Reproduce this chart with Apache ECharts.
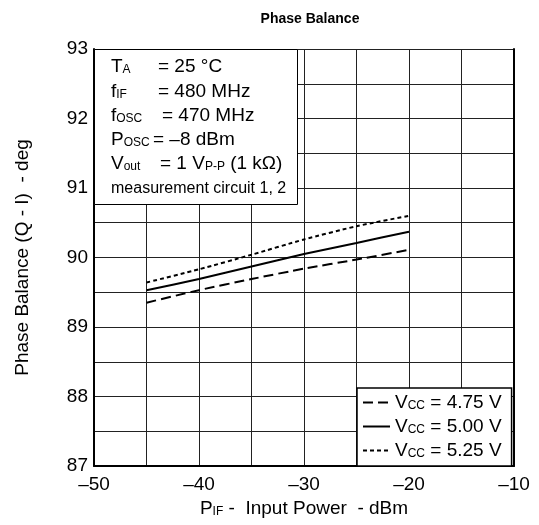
<!DOCTYPE html>
<html>
<head>
<meta charset="utf-8">
<script src="https://cdn.jsdelivr.net/npm/echarts@6/dist/echarts.min.js"></script>
<style>html,body{margin:0;padding:0;background:#fff}#c{width:539px;height:525px}</style>
</head>
<body>
<div id="c"></div>
<script>
// ---- data ----
const inputPower = [-45, -40, -35, -30, -25, -20];
const vcc475 = [89.35, 89.53, 89.69, 89.84, 89.97, 90.11];
const vcc500 = [89.53, 89.69, 89.87, 90.05, 90.21, 90.37];
const vcc525 = [89.64, 89.83, 90.04, 90.26, 90.45, 90.60];
const seriesNames = ['4.75', '5.00', '5.25'];
const xTicks = [-50, -40, -30, -20, -10];
const yTicks = [87, 88, 89, 90, 91, 92, 93];

const F = 'Liberation Sans, Arial, Helvetica, sans-serif';
const pair = (ys) => inputPower.map((x, i) => [x, ys[i]]);
const sub = { fontSize: 12, lineHeight: 12, verticalAlign: 'bottom', fontFamily: F, color: '#000' };
const main = { fontSize: 19, lineHeight: 19, fontFamily: F, color: '#000' };

const chart = echarts.init(document.getElementById('c'), null, { renderer: 'canvas' });

function rowText(x, y, t, size) {
  return {
    type: 'text', left: x, top: y - 11, z: 101,
    style: { text: t, font: (size || 19) + 'px ' + F, fill: '#000',
      rich: { m: main, s: sub } }
  };
}

const lineStyles = [
  { type: [10, 5], width: 2 },
  { type: 'solid', width: 2 },
  { type: [4, 3], width: 2 }
];
const datas = [vcc475, vcc500, vcc525];

chart.setOption({
  animation: false,
  backgroundColor: '#fff',
  title: {
    text: 'Phase Balance', left: 305, top: 7, textAlign: 'center',
    textStyle: { fontSize: 14, fontWeight: 'bold', color: '#000', fontFamily: F }
  },
  grid: { left: 94, right: 25, top: 49, bottom: 59, containLabel: false },
  xAxis: {
    type: 'value', min: xTicks[0], max: xTicks[xTicks.length - 1], interval: 10,
    name: '{m|P}{s|IF}{m| -  Input Power  - dBm}', nameLocation: 'middle', nameGap: 33,
    nameTextStyle: { fontSize: 19, fontFamily: F, color: '#000', rich: { m: main, s: sub } },
    axisLine: { show: true, onZero: false, lineStyle: { color: '#000', width: 2 } },
    axisTick: { show: false },
    axisLabel: { fontSize: 19, fontFamily: F, color: '#000', margin: 9,
      formatter: v => String(v).replace('-', '\u2013') },
    splitLine: { show: true, lineStyle: { color: '#222', width: 1 } },
    minorTick: { show: false, splitNumber: 2 },
    minorSplitLine: { show: true, lineStyle: { color: '#222', width: 1 } }
  },
  yAxis: [{
    type: 'value', min: yTicks[0], max: yTicks[yTicks.length - 1], interval: 1,
    name: 'Phase Balance (Q - I)  - deg', nameLocation: 'middle', nameGap: 62,
    nameTextStyle: { fontSize: 19, fontFamily: F, color: '#000' },
    axisLine: { show: true, onZero: false, lineStyle: { color: '#000', width: 2 } },
    axisTick: { show: false },
    axisLabel: { fontSize: 19, fontFamily: F, color: '#000', margin: 6 },
    splitLine: { show: true, lineStyle: { color: '#222', width: 1 } },
    minorTick: { show: false, splitNumber: 2 },
    minorSplitLine: { show: true, lineStyle: { color: '#222', width: 1 } }
  }, {
    type: 'value', position: 'right', min: yTicks[0], max: yTicks[yTicks.length - 1], interval: 1,
    axisLine: { show: true, onZero: false, lineStyle: { color: '#000', width: 2 } },
    axisTick: { show: false }, axisLabel: { show: false }, splitLine: { show: false }
  }],
  legend: {
    orient: 'vertical', left: 357, top: 388, z: 110,
    backgroundColor: '#fff', borderColor: '#000', borderWidth: 1.5, borderRadius: 0,
    padding: [5, 10, 6, 5], itemGap: 5, itemWidth: 27, itemHeight: 14,
    itemStyle: { opacity: 0 },
    data: seriesNames,
    formatter: n => '{m|V}{s|CC}{m| = ' + n + ' V}',
    textStyle: { fontSize: 19, fontFamily: F, color: '#000', rich: { m: main, s: sub } }
  },
  series: seriesNames.map((n, i) => ({
    name: n, type: 'line', data: pair(datas[i]), showSymbol: false, symbol: 'none',
    smooth: 0.2, color: '#000', lineStyle: Object.assign({ color: '#000' }, lineStyles[i]), z: 5
  })),
  graphic: [
    { type: 'rect', left: 94, top: 49, z: 100,
      shape: { width: 203, height: 155 },
      style: { fill: '#fff', stroke: '#000', lineWidth: 1 } },
    rowText(111, 68, '{m|T}{s|A}'),
    rowText(158, 68, '{m|= 25 °C}'),
    rowText(111, 93, '{m|f}{s|IF}'),
    rowText(158, 93, '{m|= 480 MHz}'),
    rowText(111, 117, '{m|f}{s|OSC}'),
    rowText(162, 117, '{m|= 470 MHz}'),
    rowText(111, 141, '{m|P}{s|OSC}'),
    rowText(153, 141, '{m|= \u20138 dBm}'),
    rowText(111, 165, '{m|V}{s|out}'),
    rowText(160, 165, '{m|= 1 V}{s|P-P}{m| (1 k\u03A9)}'),
    { type: 'text', left: 111, top: 181, z: 101,
      style: { text: 'measurement circuit 1, 2', font: '16px ' + F, fill: '#000' } }
  ]
});
</script>
</body>
</html>
